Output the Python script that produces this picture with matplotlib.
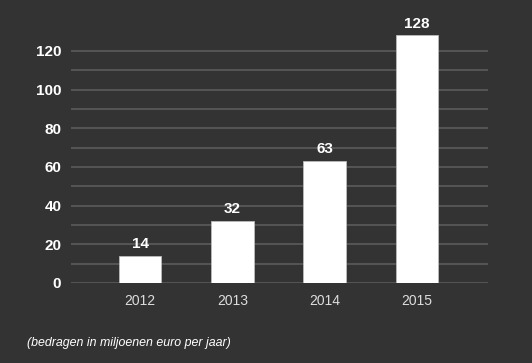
import matplotlib
matplotlib.use("Agg")
import matplotlib.pyplot as plt
from matplotlib.ticker import MultipleLocator

# Data
years = ["2012", "2013", "2014", "2015"]
amounts = [14, 32, 63, 128]
footnote = "(bedragen in miljoenen euro per jaar)"

bg = "#333333"
grid_color = "#585858"

plt.rcParams["font.family"] = ["Liberation Sans", "DejaVu Sans"]

fig = plt.figure(figsize=(5.32, 3.63), dpi=100, facecolor=bg)
ax = fig.add_axes([0.1335, 0.2204, 0.7835, 0.692])
ax.set_facecolor(bg)

x = range(len(years))
ax.bar(x, amounts, width=0.46, color="white", edgecolor="#bbbbbb",
       linewidth=0.6, zorder=3)

# value labels above the bars
for xi, v in zip(x, amounts):
    ax.annotate(str(v), (xi, v), xytext=(0, 3.5), textcoords="offset points",
                ha="center", va="bottom", color="white",
                fontsize=11, fontweight="bold")

ax.set_xlim(-0.75, 3.77)
ax.set_ylim(0, 129.9)
ax.yaxis.set_major_locator(MultipleLocator(20))
ax.yaxis.set_minor_locator(MultipleLocator(10))
ax.grid(axis="y", which="both", color=grid_color, linewidth=1.3, zorder=0)
ax.set_axisbelow(True)

ax.set_xticks(list(x))
ax.set_xticklabels(years)
ax.tick_params(axis="x", length=0, pad=8, labelsize=10, labelcolor="#dddddd")
ax.tick_params(axis="y", which="both", length=0, pad=7, labelsize=11)
for lbl in ax.get_yticklabels():
    lbl.set_color("white")
    lbl.set_fontweight("bold")

for s in ax.spines.values():
    s.set_visible(False)

fig.text(27 / 532, 1 - 343 / 363, footnote, color="white", fontsize=8.9,
         style="italic", ha="left", va="center")

fig.savefig("out.png", dpi=100, facecolor=bg)
